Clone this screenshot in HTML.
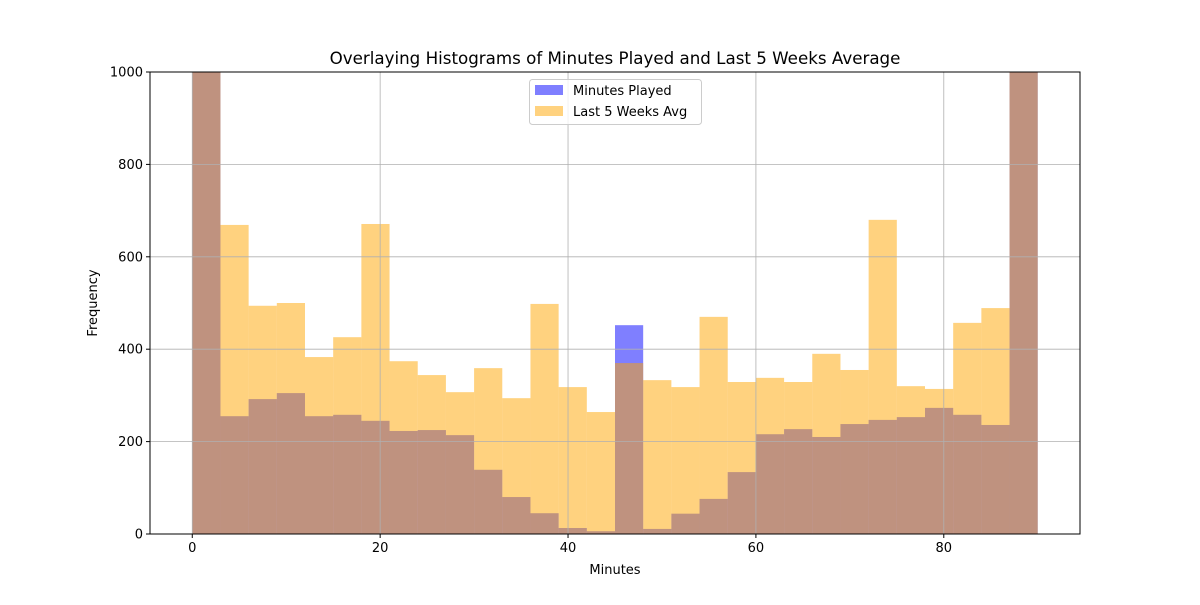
<!DOCTYPE html>
<html><head><meta charset="utf-8"><style>
body{margin:0;background:#fff}
svg{font-family:"DejaVu Sans","Liberation Sans",sans-serif}
</style></head><body>
<svg id="chart" width="1200" height="600" xmlns="http://www.w3.org/2000/svg">
<rect width="1200" height="600" fill="#fff"/>
<g id="bars"></g>
<g id="grid"></g>
<g id="axes"></g>
</svg>
<script>
const binStart = 0, binWidth = 3;
const minutesPlayed = [1200,255,292,305,255,258,245,223,225,214,139,80,45,13,6,452,11,44,76,134,216,227,210,238,247,253,273,258,236,1200];
const last5Avg = [1200,669,494,500,383,426,671,374,344,307,359,294,498,318,264,370,333,318,470,329,338,329,390,355,680,320,314,457,489,1200];
const xTicks = [0,20,40,60,80];
const yTicks = [0,200,400,600,800,1000];
const L=150,R=1080,T=72,B=534, xmin=-4.5, xmax=94.5, ymax=1000;
const sx=v=>L+(v-xmin)/(xmax-xmin)*(R-L);
const sy=v=>B-Math.min(v,ymax)/ymax*(B-T);
const NS="http://www.w3.org/2000/svg";
function mk(tag,attrs,parent){const e=document.createElementNS(NS,tag);for(const k in attrs)e.setAttribute(k,attrs[k]);parent.appendChild(e);return e;}
const grid=document.getElementById('grid'),bars=document.getElementById('bars'),axes=document.getElementById('axes');
xTicks.forEach(t=>{const l=mk('line',{x1:sx(t),x2:sx(t),y1:T,y2:B,stroke:'#b0b0b0','stroke-width':0.8},grid);});
yTicks.forEach(t=>{const l=mk('line',{x1:L,x2:R,y1:sy(t),y2:sy(t),stroke:'#b0b0b0','stroke-width':0.8},grid);});
function series(vals,color,name){vals.forEach((v,i)=>{const x0=sx(binStart+i*binWidth),x1=sx(binStart+(i+1)*binWidth);const r=mk('rect',{x:x0,y:sy(v),width:x1-x0,height:B-sy(v),fill:color,'fill-opacity':0.5},bars);});}
series(minutesPlayed,'#0000ff','minutes-played');
series(last5Avg,'#ffa500','last-5-weeks-avg');
const fr=mk('rect',{x:L,y:T,width:R-L,height:B-T,fill:'none',stroke:'#000','stroke-width':1},axes);

xTicks.forEach(t=>{mk('line',{x1:sx(t),x2:sx(t),y1:B,y2:B+4,stroke:'#000'},axes);const tx=mk('text',{x:sx(t),y:B+18,'text-anchor':'middle','font-size':13},axes);tx.textContent=t;});
yTicks.forEach(t=>{mk('line',{x1:L-4,x2:L,y1:sy(t),y2:sy(t),stroke:'#000'},axes);const tx=mk('text',{x:L-7,y:sy(t)+4.5,'text-anchor':'end','font-size':13},axes);tx.textContent=t;});
</script>
<svg style="position:absolute;left:0;top:0" width="1200" height="600" xmlns="http://www.w3.org/2000/svg">
<text x="615" y="64" text-anchor="middle" font-size="16.7">Overlaying Histograms of Minutes Played and Last 5 Weeks Average</text>
<text x="615" y="574" text-anchor="middle" font-size="13">Minutes</text>
<text x="97" y="303" text-anchor="middle" font-size="13" transform="rotate(-90 97 303)">Frequency</text>
<g>
<rect x="529.5" y="79.5" width="172" height="45" rx="3" fill="#fff" fill-opacity="0.8" stroke="#ccc"/>
<rect x="535" y="85" width="28" height="10" fill="#0000ff" fill-opacity="0.5"/>
<text x="573" y="95" font-size="13">Minutes Played</text>
<rect x="535" y="106" width="28" height="10" fill="#ffa500" fill-opacity="0.5"/>
<text x="573" y="116" font-size="13">Last 5 Weeks Avg</text>
</g>
</svg>
</body></html>
